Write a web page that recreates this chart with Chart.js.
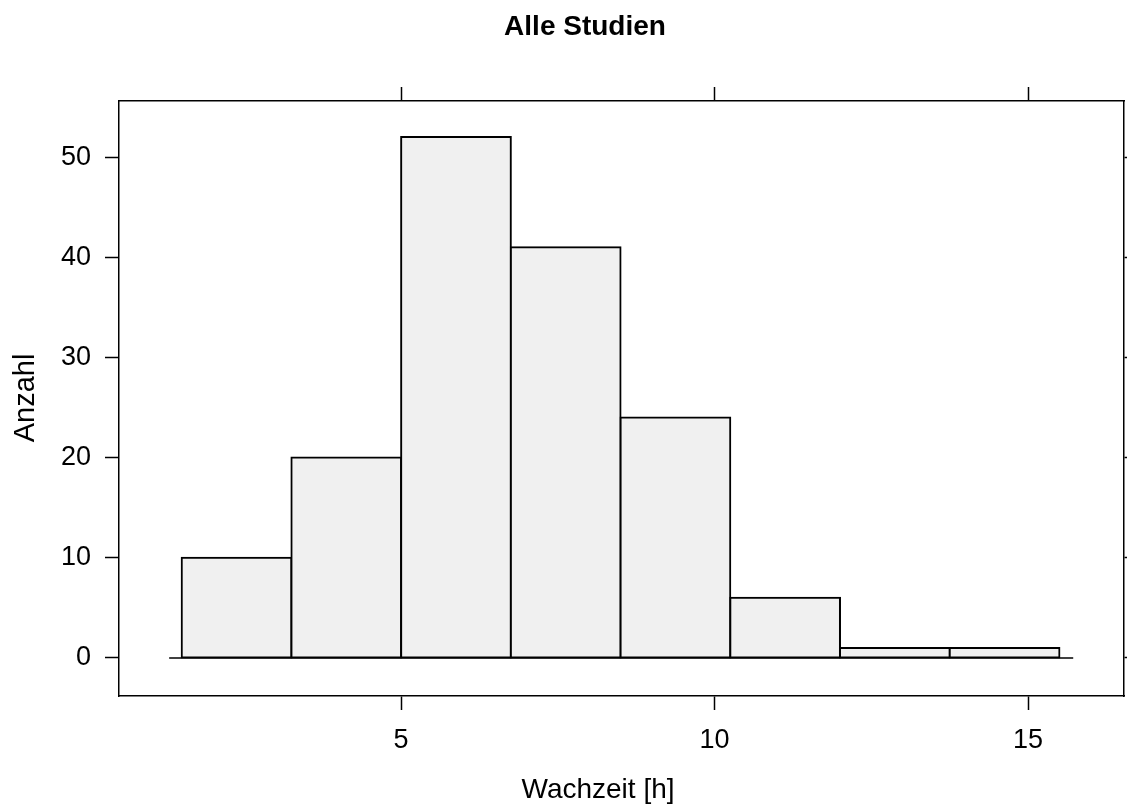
<!DOCTYPE html>
<html>
<head>
<meta charset="utf-8">
<script src="https://cdn.jsdelivr.net/npm/chart.js@4"></script>
<style>
  html, body { margin: 0; padding: 0; background: #fff; }
  #wrap { width: 1127px; height: 805px; }
</style>
</head>
<body>
<div id="wrap"><canvas id="histChart" width="1127" height="805"></canvas></div>
<script>
// Histogram bins (hours) and counts
const binEdges = [1.5, 3.25, 5.0, 6.75, 8.5, 10.25, 12.0, 13.75, 15.5];
const counts = [10, 20, 52, 41, 24, 6, 1, 1];
const xTicks = [5, 10, 15];
const yTicks = [0, 10, 20, 30, 40, 50];
const baselineRange = [1.3, 15.72];

const title = 'Alle Studien';
const xLabel = 'Wachzeit [h]';
const yLabel = 'Anzahl';

const FONT = '"Liberation Sans", Arial, Helvetica, sans-serif';
const INK = '#000';

// bar centres from the bin edges
const bars = counts.map((c, i) => ({ x: (binEdges[i] + binEdges[i + 1]) / 2, y: c }));
const baseline = baselineRange.map(v => ({ x: v, y: 0 }));

const setTicks = list => scale => { scale.ticks = list.map(v => ({ value: v })); };
const fixSize = (prop, px) => scale => { scale[prop] = px; };

function axis(position, list, labels, size) {
  const horizontal = position === 'top' || position === 'bottom';
  return {
    type: 'linear',
    position: position,
    min: horizontal ? 0.5 : -3.8,
    max: horizontal ? 16.53 : 55.6,
    offset: false,
    afterBuildTicks: setTicks(list),
    afterFit: fixSize(horizontal ? 'height' : 'width', size),
    border: { display: true, color: INK, width: 1.5 },
    grid: {
      display: true,
      drawOnChartArea: false,
      drawTicks: true,
      tickLength: 14,
      tickWidth: 1.5,
      tickColor: INK,
      offset: false
    },
    ticks: {
      display: labels,
      color: INK,
      padding: 14,
      maxRotation: 0,
      autoSkip: false,
      font: { family: FONT, size: 27 }
    }
  };
}

// title and axis captions
const captions = {
  id: 'captions',
  afterDraw(chart) {
    const ctx = chart.ctx;
    ctx.save();
    ctx.fillStyle = INK;
    ctx.textAlign = 'center';
    ctx.textBaseline = 'alphabetic';
    ctx.font = 'bold 28px ' + FONT;
    ctx.fillText(title, 585, 35);
    ctx.font = '28px ' + FONT;
    ctx.fillText(xLabel, 598, 798);
    ctx.font = '29px ' + FONT;
    ctx.translate(34, 398);
    ctx.rotate(-Math.PI / 2);
    ctx.fillText(yLabel, 0, 0);
    ctx.restore();
  }
};

new Chart(document.getElementById('histChart'), {
  type: 'bar',
  data: {
    datasets: [
      {
        type: 'line',
        data: baseline,
        xAxisID: 'x',
        yAxisID: 'y',
        borderColor: INK,
        borderWidth: 1.5,
        pointRadius: 0,
        fill: false
      },
      {
        type: 'bar',
        data: bars,
        xAxisID: 'x',
        yAxisID: 'y',
        backgroundColor: '#f0f0f0',
        borderColor: INK,
        borderWidth: 2,
        inflateAmount: 1,
        borderSkipped: false,
        barPercentage: 1,
        categoryPercentage: 1
      }
    ]
  },
  options: {
    responsive: false,
    animation: false,
    layout: { padding: 0 },
    plugins: {
      legend: { display: false },
      tooltip: { enabled: false },
      title: { display: false }
    },
    scales: {
      x: axis('bottom', xTicks, true, 109),
      x2: axis('top', xTicks, false, 101),
      y: axis('left', yTicks, true, 119),
      y2: axis('right', yTicks, false, 3)
    }
  },
  plugins: [captions]
});
</script>
</body>
</html>
